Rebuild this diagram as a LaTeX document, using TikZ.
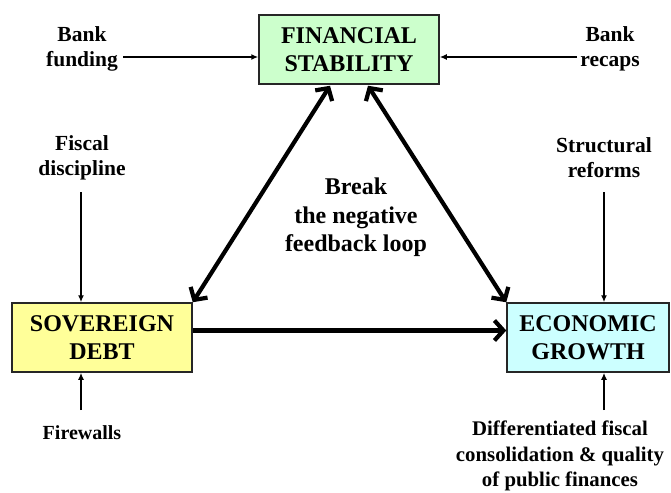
\documentclass[tikz,border=0pt]{standalone}
\usepackage{fontspec}
\setmainfont{Liberation Serif}
\usetikzlibrary{arrows.meta,calc}
\definecolor{fsgreen}{HTML}{CCFFCC}
\definecolor{sdyellow}{HTML}{FFFF99}
\definecolor{egcyan}{HTML}{CCFFFF}
\begin{document}
\begin{tikzpicture}[x=1pt,y=1pt,
  box/.style={draw=black!85,line width=1.5pt,minimum height=69pt,align=center,
    font=\fontsize{24}{28}\selectfont\bfseries,inner sep=0pt},
  side/.style={align=center,font=\fontsize{21.5}{25}\selectfont\bfseries,inner sep=0pt},
  sidesmall/.style={align=center,font=\fontsize{20}{25}\selectfont\bfseries,inner sep=0pt},
  sidewide/.style={align=center,font=\fontsize{20.8}{25.5}\selectfont\bfseries,inner sep=0pt},
  mid/.style={align=center,font=\fontsize{24}{28.5}\selectfont\bfseries,inner sep=0pt},
  thinarrow/.style={line width=1.8pt,-{Latex[length=7pt,width=6pt]}},
  thickarrow/.style={line width=4.2pt,{Straight Barb[length=9pt,width=20pt]}-{Straight Barb[length=9pt,width=20pt]}},
  onearrow/.style={line width=4.2pt,-{Straight Barb[length=9pt,width=20pt]}}]
\useasboundingbox (0,0) rectangle (671,-492);
% boxes
\node[box,fill=fsgreen,minimum width=180pt] (fs) at (349,-49.5) {FINANCIAL\\STABILITY};
\node[box,fill=sdyellow,minimum width=180pt] (sd) at (102,-337.5) {SOVEREIGN\\DEBT};
\node[box,fill=egcyan,minimum width=162pt] (eg) at (588,-337.5) {ECONOMIC\\GROWTH};
% labels
\node[side] (bf) at (82,-49) {Bank\\funding};
\node[side] (br) at (610,-49) {Bank\\recaps};
\node[side] (fd) at (82,-158) {Fiscal\\discipline};
\node[side] (sr) at (604,-158) {Structural\\reforms};
\node[sidesmall] (fw) at (82,-433) {Firewalls};
\node[sidewide] (dfc) at (560,-456) {Differentiated fiscal\\consolidation \& quality\\of public finances};
\node[mid] (bl) at (356,-217.5) {Break\\the negative\\feedback loop};
% connector end points
\coordinate (bfS) at (123,-57);
\coordinate (brS) at (577,-57);
\coordinate (fdS) at (81,-192);
\coordinate (srS) at (604,-192);
\coordinate (fwS) at (81,-410);
\coordinate (dfS) at (604,-410);
% thin arrows
\draw[thinarrow] (bfS) -- (bfS -| fs.west);
\draw[thinarrow] (brS) -- (brS -| fs.east);
\draw[thinarrow] (fdS) -- (fdS |- sd.north);
\draw[thinarrow] (srS) -- (srS |- eg.north);
\draw[thinarrow] (fwS) -- (fwS |- sd.south);
\draw[thinarrow] (dfS) -- (dfS |- eg.south);
% thick arrows
\draw[thickarrow] ($(fs.south)+(-19,-1)$) -- (sd.north east);
\draw[thickarrow] ($(fs.south)+(19,-1)$) -- (eg.north west);
\draw[onearrow] ($(sd.east)+(0,7)$) -- ($(eg.west)+(0,7)$);
\end{tikzpicture}
\end{document}
